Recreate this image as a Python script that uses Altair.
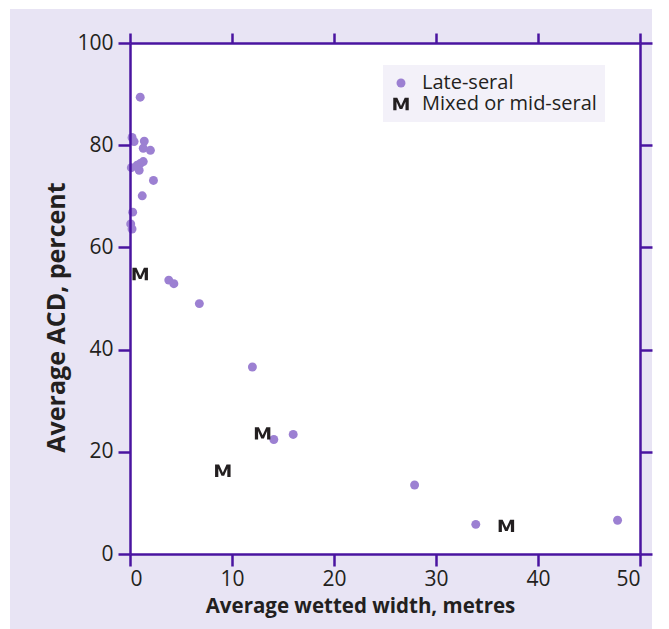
import altair as alt
import pandas as pd

# ---- data ----
late_x = [1.0, 0.2, 0.4, 1.4, 1.3, 2.0, 0.13, 0.7, 1.0, 1.3, 0.9, 2.3, 1.2, 0.26, 0.07, 0.2,
          3.8, 4.3, 6.8, 12.0, 14.1, 16.0, 27.9, 33.9, 47.8]
late_y = [89.4, 81.5, 80.7, 80.8, 79.4, 79.0, 75.6, 76.1, 76.4, 76.8, 75.1, 73.1, 70.1, 66.9, 64.6, 63.6,
          53.6, 52.9, 49.0, 36.6, 22.4, 23.4, 13.5, 5.8, 6.6]
mixed_x = [1.0, 9.1, 13.0, 36.9]
mixed_y = [54.8, 16.3, 23.6, 5.5]
categories = ["Late-seral", "Mixed or mid-seral"]
x_ticks = [0, 10, 20, 30, 40, 50]
y_ticks = [0, 20, 40, 60, 80, 100]

df = pd.DataFrame({
    "width": late_x + mixed_x,
    "acd": late_y + mixed_y,
    "stage": [categories[0]] * len(late_x) + [categories[1]] * len(mixed_x),
})

LAV = "#E8E4F4"
AX = "#4A14A0"
TXT = "#231F20"
PURP = "#9C80D2"
FONT = "Open Sans"
M_PATH = ("M -1,0.8 L -1,-0.8 L -0.48,-0.8 L 0,0.25 L 0.48,-0.8 L 1,-0.8 L 1,0.8 "
          "L 0.58,0.8 L 0.58,-0.3 L 0.17,0.65 L -0.17,0.65 L -0.58,-0.3 L -0.58,0.8 Z")

xscale = alt.Scale(domain=[0, 50], nice=False, zero=False)
yscale = alt.Scale(domain=[0, 100], nice=False, zero=False)

base_axis = dict(domainColor=AX, domainWidth=2.5, tickColor=AX, tickWidth=2.5, zindex=1,
                 grid=False, labelFont=FONT, labelFontSize=21, labelColor=TXT)
title_axis = dict(titleFont=FONT, titleFontWeight="bold", titleColor=TXT)

one = pd.DataFrame({"k": [0]})
bg = alt.Chart(one).mark_rect(color=LAV).encode(
    x=alt.value(-120), x2=alt.value(522), y=alt.value(-34), y2=alt.value(586))
white = alt.Chart(one).mark_rect(color="white").encode(
    x=alt.value(0), x2=alt.value(510), y=alt.value(0), y2=alt.value(511))

pts = alt.Chart(df).mark_point(filled=True, opacity=1, strokeWidth=0).encode(
    x=alt.X("width:Q", scale=xscale,
            axis=alt.Axis(orient="bottom", values=x_ticks, tickSize=12, labelPadding=2,
                          title="Average wetted width, metres", titlePadding=7,
                          titleFontSize=20.5, titleX=230, **base_axis, **title_axis)),
    y=alt.Y("acd:Q", scale=yscale,
            axis=alt.Axis(orient="left", values=y_ticks, tickSize=12, labelPadding=5,
                          title="Average ACD, percent", titlePadding=7,
                          titleFontSize=25, titleY=274, **base_axis, **title_axis)),
    color=alt.Color("stage:N", scale=alt.Scale(domain=categories, range=[PURP, TXT]),
                    legend=alt.Legend(title=None, orient="none", legendX=253, legendY=22,
                                      fillColor="#F3F1F9", padding=8,
                                      labelFont=FONT, labelFontSize=20, labelColor=TXT,
                                      labelOffset=11, labelLimit=300, rowPadding=1,
                                      symbolOpacity=1, symbolStrokeWidth=0)),
    shape=alt.Shape("stage:N", scale=alt.Scale(domain=categories, range=["circle", M_PATH])),
    size=alt.Size("stage:N", scale=alt.Scale(domain=categories, range=[80, 240])),
)

frame = alt.Chart(df).mark_point(opacity=0).encode(
    x=alt.X("width:Q", scale=xscale,
            axis=alt.Axis(orient="top", values=x_ticks, tickSize=10, labels=False, title=None,
                          **base_axis)),
    y=alt.Y("acd:Q", scale=yscale,
            axis=alt.Axis(orient="right", values=y_ticks, tickSize=12, labels=False, title=None,
                          **base_axis)),
)

chart = alt.layer(bg, white, frame, pts).resolve_axis(
    x="independent", y="independent"
).properties(
    width=510, height=511,
    autosize=alt.AutoSizeParams(type="none"),
    padding={"left": 130, "top": 43, "right": 29, "bottom": 75},
    background="white",
).configure_view(stroke=None)

chart.save("out.html", embed_options={"renderer": "svg", "actions": False})
